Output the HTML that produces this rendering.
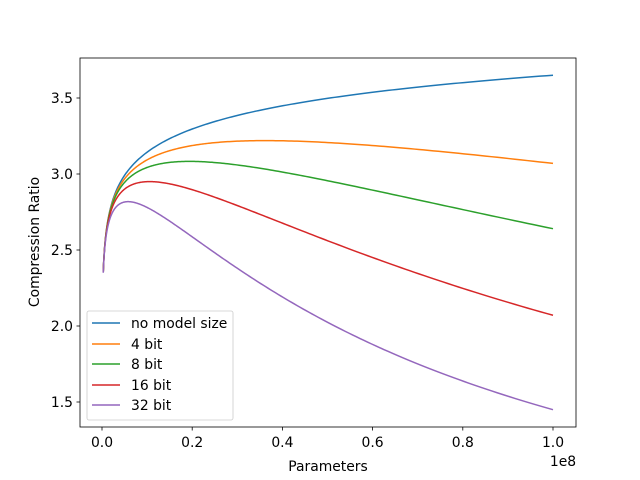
<!DOCTYPE html>
<html><head><style>body{margin:0;background:#fff}svg{display:block;font-family:"DejaVu Sans","Liberation Sans",sans-serif}</style></head>
<body>
<svg id="s" width="640" height="480" xmlns="http://www.w3.org/2000/svg">
<rect width="640" height="480" fill="#fff"/>
<g id="curves" fill="none" stroke-width="1.5"></g>
<rect x="80" y="58" width="496" height="369" fill="none" stroke="#000" stroke-width="0.8"/>
<g stroke="#000" stroke-width="0.8">
<line x1="102" y1="427" x2="102" y2="430.5"/><line x1="192.2" y1="427" x2="192.2" y2="430.5"/><line x1="282.4" y1="427" x2="282.4" y2="430.5"/><line x1="372.6" y1="427" x2="372.6" y2="430.5"/><line x1="462.8" y1="427" x2="462.8" y2="430.5"/><line x1="553" y1="427" x2="553" y2="430.5"/>
<line x1="76.5" y1="98" x2="80" y2="98"/><line x1="76.5" y1="174" x2="80" y2="174"/><line x1="76.5" y1="250" x2="80" y2="250"/><line x1="76.5" y1="326" x2="80" y2="326"/><line x1="76.5" y1="402" x2="80" y2="402"/>
</g>
<g font-size="13.9" fill="#000" text-anchor="middle">
<text x="102" y="447">0.0</text><text x="192.2" y="447">0.2</text><text x="282.4" y="447">0.4</text><text x="372.6" y="447">0.6</text><text x="462.8" y="447">0.8</text><text x="553" y="447">1.0</text>
<text x="563" y="466">1e8</text>
<text x="328" y="471">Parameters</text>
</g>
<g font-size="13.9" fill="#000" text-anchor="end">
<text x="73" y="103">3.5</text><text x="73" y="179">3.0</text><text x="73" y="255">2.5</text><text x="73" y="331">2.0</text><text x="73" y="407">1.5</text>
</g>
<text transform="translate(39,242) rotate(-90)" font-size="13.9" text-anchor="middle">Compression Ratio</text>
<rect x="87" y="311" width="146" height="109" rx="2" fill="#fff" fill-opacity="0.8" stroke="#ccc" stroke-width="0.8"/>
<g stroke-width="1.5">
<line x1="92" y1="323" x2="120" y2="323" stroke="#1f77b4"/>
<line x1="92" y1="344" x2="120" y2="344" stroke="#ff7f0e"/>
<line x1="92" y1="364" x2="120" y2="364" stroke="#2ca02c"/>
<line x1="92" y1="385" x2="120" y2="385" stroke="#d62728"/>
<line x1="92" y1="405" x2="120" y2="405" stroke="#9467bd"/>
</g>
<g font-size="13.9" fill="#000">
<text x="131" y="328">no model size</text>
<text x="131" y="349">4 bit</text>
<text x="131" y="369">8 bit</text>
<text x="131" y="390">16 bit</text>
<text x="131" y="410">32 bit</text>
</g>
</svg>
<script>
var cols=["#1f77b4","#ff7f0e","#2ca02c","#d62728","#9467bd"],ks=[0,0.0518,0.1048,0.209,0.416];
var g=document.getElementById("curves");
ks.forEach(function(k,i){var d="";var N=400;for(var j=0;j<=N;j++){var t=j/N;var p=0.0028*Math.pow(1/0.0028,t);var B=3.65+0.22*Math.log(p);var R=1/(1/B+k*p);var x=102+451*p,y=174-(R-3)*152;d+=(j?"L":"M")+x.toFixed(2)+","+y.toFixed(2);}
var pa=document.createElementNS("http://www.w3.org/2000/svg","path");pa.setAttribute("d",d);pa.setAttribute("stroke",cols[i]);g.appendChild(pa);});
</script>
</body></html>
